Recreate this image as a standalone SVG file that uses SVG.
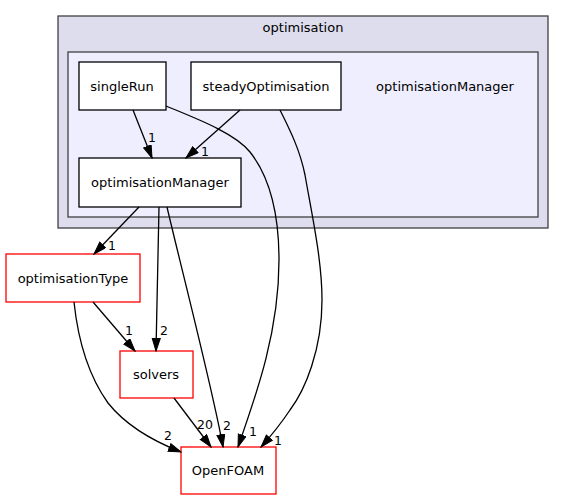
<svg xmlns="http://www.w3.org/2000/svg" width="565" height="500" viewBox="0 0 565 500">
<style>
text{font-family:"DejaVu Sans","Liberation Sans",sans-serif;font-size:13px;fill:#000;text-anchor:middle}
.lbl{font-size:12.5px}
.blk{fill:#fff;stroke:#000;stroke-width:1.3}
.red{fill:#fff;stroke:#ff0000;stroke-width:1.3}
.edge{fill:none;stroke:#000;stroke-width:1.3}
</style>
<defs>
<marker id="ah" markerUnits="userSpaceOnUse" markerWidth="14" markerHeight="10" refX="13" refY="4.5" orient="auto">
<path d="M0.5,0.5 L13,4.5 L0.5,8.5 z" fill="#000" stroke="#000" stroke-width="1"/>
</marker>
</defs>
<g id="cluster_optimisation">
<rect x="58" y="16" width="490" height="212" fill="#ddddee" stroke="#404040" stroke-width="1.3"/>
<text x="303" y="32">optimisation</text>
</g>
<g id="cluster_optimisationManager">
<rect x="68" y="52" width="470" height="165" fill="#eeeeff" stroke="#404040" stroke-width="1.3"/>
<text x="445" y="91">optimisationManager</text>
</g>
<g id="node_singleRun">
<rect class="blk" x="79" y="62" width="87" height="48"/>
<text x="122" y="91">singleRun</text>
</g>
<g id="node_steadyOptimisation">
<rect class="blk" x="191" y="62" width="150" height="48"/>
<text x="266" y="91">steadyOptimisation</text>
</g>
<g id="node_optimisationManager">
<rect class="blk" x="79" y="158" width="162" height="49"/>
<text x="160" y="187">optimisationManager</text>
</g>
<g id="node_optimisationType">
<rect class="red" x="6" y="254" width="134" height="48"/>
<text x="73" y="283">optimisationType</text>
</g>
<g id="node_solvers">
<rect class="red" x="120" y="351" width="73" height="47"/>
<text x="156" y="379">solvers</text>
</g>
<g id="node_OpenFOAM">
<rect class="red" x="181" y="447" width="95" height="47"/>
<text x="228" y="475">OpenFOAM</text>
</g>
<g id="edges">
<path class="edge" marker-end="url(#ah)" d="M133,110 L152,158"/>
<path class="edge" marker-end="url(#ah)" d="M240,110 L186,158"/>
<path class="edge" marker-end="url(#ah)" d="M166,106 C195,118 235,133 250,152 C272,180 279,220 279,260 C279,330 258,390 238,447"/>
<path class="edge" marker-end="url(#ah)" d="M280,110 C290,130 300,150 305,175 C312,215 322,260 322,300 C322,350 305,390 290,410 C280,425 270,437 261,447"/>
<path class="edge" marker-end="url(#ah)" d="M139,207 L94,254"/>
<path class="edge" marker-end="url(#ah)" d="M159,207 L156,351"/>
<path class="edge" marker-end="url(#ah)" d="M167,207 C178,255 213,390 223,447"/>
<path class="edge" marker-end="url(#ah)" d="M93,302 L135,351"/>
<path class="edge" marker-end="url(#ah)" d="M74,302 C78,340 88,375 108,403 C128,428 158,443 181,452"/>
<path class="edge" marker-end="url(#ah)" d="M174,398 L211,447"/>
<text class="lbl" x="152" y="142">1</text>
<text class="lbl" x="205" y="156">1</text>
<text class="lbl" x="112" y="250">1</text>
<text class="lbl" x="164" y="335">2</text>
<text class="lbl" x="129" y="335">1</text>
<text class="lbl" x="205" y="429">20</text>
<text class="lbl" x="227" y="430">2</text>
<text class="lbl" x="253" y="436">1</text>
<text class="lbl" x="278" y="445">1</text>
<text class="lbl" x="168" y="440">2</text>
</g>
</svg>
